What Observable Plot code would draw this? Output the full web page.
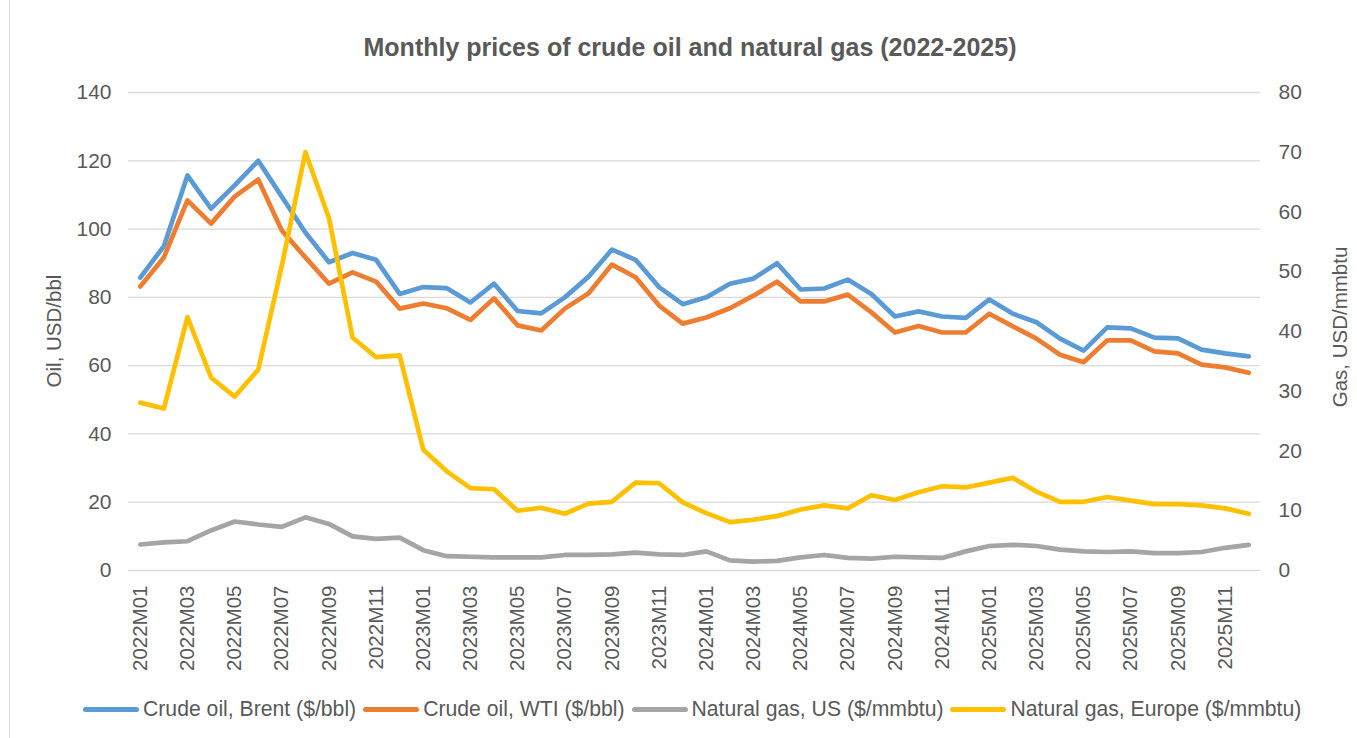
<!DOCTYPE html>
<html>
<head>
<meta charset="utf-8">
<script src="https://cdn.jsdelivr.net/npm/d3@7"></script>
<script src="https://cdn.jsdelivr.net/npm/@observablehq/plot@0.6"></script>
<style>
  html, body { margin: 0; padding: 0; background: #fff; }
  body { font-family: "Liberation Sans", Arial, sans-serif; color: #595959; }
  #wrap { position: relative; width: 1357px; height: 738px; overflow: hidden; }
  #border { position: absolute; left: 9px; top: 0; width: 1px; height: 738px; background: #d9d9d9; z-index: 5; }
  #title { position: absolute; top: 33px; left: 690px; transform: translateX(-50%); white-space: nowrap; font-weight: bold; font-size: 25px; line-height: 28px; color: #595959; }
  #chart { position: absolute; top: 80px; left: 0; width: 1357px; }
  #chart svg { max-width: none !important; }
  .ylab { position: absolute; white-space: nowrap; font-size: 20.5px; line-height: 24px; color: #595959; transform: translate(-50%, -50%) rotate(-90deg); z-index: 3; }
  #legend { position: absolute; top: 697px; left: 83px; display: flex; align-items: center; font-size: 21.2px; line-height: 24px; color: #595959; white-space: nowrap; }
  .sw { display: inline-block; width: 56px; height: 5px; border-radius: 3px; margin-right: 4px; }
  .item { display: flex; align-items: center; margin-right: 7px; }
</style>
</head>
<body>
<div id="wrap">
  <div id="title">Monthly prices of crude oil and natural gas (2022-2025)</div>
  <div id="chart"></div>
  <div id="border"></div>
  <div class="ylab" style="left:54px; top:331px;">Oil, USD/bbl</div>
  <div class="ylab" style="left:1340px; top:327px;">Gas, USD/mmbtu</div>
  <div id="legend"></div>
</div>
<script>
const months = [
  "2022M01","2022M02","2022M03","2022M04","2022M05","2022M06","2022M07","2022M08","2022M09","2022M10","2022M11","2022M12",
  "2023M01","2023M02","2023M03","2023M04","2023M05","2023M06","2023M07","2023M08","2023M09","2023M10","2023M11","2023M12",
  "2024M01","2024M02","2024M03","2024M04","2024M05","2024M06","2024M07","2024M08","2024M09","2024M10","2024M11","2024M12",
  "2025M01","2025M02","2025M03","2025M04","2025M05","2025M06","2025M07","2025M08","2025M09","2025M10","2025M11","2025M12"
];
const brent = [
  85.8, 95.0, 115.7, 106.0, 112.8, 120.0, 109.5, 99.0, 90.3, 93.0, 91.0, 81.0,
  83.0, 82.7, 78.5, 84.0, 76.0, 75.3, 80.0, 86.0, 94.0, 91.0, 83.0, 78.0,
  80.0, 84.0, 85.5, 90.0, 82.3, 82.6, 85.2, 81.0, 74.4, 75.9, 74.4, 74.0,
  79.4, 75.2, 72.7, 67.9, 64.4, 71.2, 70.9, 68.2, 68.0, 64.7, 63.6, 62.7
];
const wti = [
  83.2, 91.7, 108.4, 101.6, 109.5, 114.5, 99.6, 91.7, 84.0, 87.3, 84.6, 76.7,
  78.2, 76.8, 73.4, 79.7, 71.8, 70.3, 76.7, 81.1, 89.6, 85.9, 77.6, 72.3,
  74.1, 76.8, 80.5, 84.6, 78.8, 78.8, 80.8, 75.6, 69.7, 71.6, 69.7, 69.7,
  75.2, 71.5, 67.9, 63.2, 61.0, 67.4, 67.4, 64.2, 63.6, 60.3, 59.5, 57.9
];
const gasUS = [
  4.35, 4.7, 4.9, 6.7, 8.2, 7.7, 7.3, 8.9, 7.8, 5.7, 5.3, 5.5,
  3.4, 2.4, 2.3, 2.2, 2.2, 2.2, 2.6, 2.6, 2.7, 3.0, 2.7, 2.6,
  3.2, 1.7, 1.5, 1.6, 2.2, 2.6, 2.1, 2.0, 2.3, 2.2, 2.1, 3.2,
  4.1, 4.3, 4.1, 3.5, 3.2, 3.1, 3.2, 2.9, 2.9, 3.1, 3.8, 4.3
];
const gasEurope = [
  28.1, 27.1, 42.4, 32.3, 29.1, 33.6, 51.0, 70.0, 59.0, 39.0, 35.7, 36.0,
  20.2, 16.6, 13.8, 13.6, 10.0, 10.5, 9.5, 11.2, 11.5, 14.7, 14.6, 11.4,
  9.6, 8.1, 8.5, 9.1, 10.2, 10.9, 10.4, 12.6, 11.8, 13.1, 14.1, 13.9,
  14.7, 15.5, 13.2, 11.5, 11.5, 12.3, 11.7, 11.1, 11.1, 10.9, 10.4, 9.5
];
const oilTicks = [0, 20, 40, 60, 80, 100, 120, 140];
const gasTicks = [0, 10, 20, 30, 40, 50, 60, 70, 80];
const seriesNames = [
  "Crude oil, Brent ($/bbl)",
  "Crude oil, WTI ($/bbl)",
  "Natural gas, US ($/mmbtu)",
  "Natural gas, Europe ($/mmbtu)"
];
const colors = ["#5B9BD5", "#ED7D31", "#A5A5A5", "#FFC000"];

const oilMax = 140, gasMax = 80;
const k = oilMax / gasMax; // gas -> oil-axis units

const rows = (vals, scale) => months.map((m, i) => ({month: m, v: vals[i] * scale}));
const seriesRows = [rows(brent, 1), rows(wti, 1), rows(gasUS, k), rows(gasEurope, k)];

const chart = Plot.plot({
  width: 1357,
  height: 610,
  marginTop: 12,
  marginBottom: 120,
  marginLeft: 128,
  marginRight: 97,
  style: {fontFamily: "'Liberation Sans', Arial, sans-serif", fontSize: "21px", color: "#595959", background: "transparent"},
  x: {type: "point", domain: months, padding: 0.5, round: false},
  y: {domain: [0, oilMax]},
  marks: [
    Plot.gridY(oilTicks, {stroke: "#d9d9d9", strokeOpacity: 1, strokeWidth: 1.3}),
    Plot.axisY(oilTicks, {anchor: "left", tickSize: 0, tickPadding: 17, label: null, fill: "#595959", fontSize: 21}),
    Plot.axisY(gasTicks.map(d => d * k), {anchor: "right", tickSize: 0, tickPadding: 18, label: null, tickFormat: d => Math.round(d / k), fill: "#595959", fontSize: 21}),
    Plot.axisX(months.filter((d, i) => i % 2 === 0), {anchor: "bottom", tickSize: 0, tickPadding: 15, tickRotate: -90, label: null, fill: "#595959", fontSize: 20.5}),
    ...seriesRows.map((data, i) => Plot.line(data, {x: "month", y: "v", stroke: colors[i], strokeWidth: 4.7, strokeLinejoin: "round", strokeLinecap: "round"}))
  ]
});
document.getElementById("chart").appendChild(chart);

const legend = document.getElementById("legend");
seriesNames.forEach((name, i) => {
  const it = document.createElement("div");
  it.className = "item";
  const sw = document.createElement("span");
  sw.className = "sw";
  sw.style.background = colors[i];
  const tx = document.createElement("span");
  tx.textContent = name;
  it.appendChild(sw);
  it.appendChild(tx);
  legend.appendChild(it);
});
</script>
</body>
</html>
